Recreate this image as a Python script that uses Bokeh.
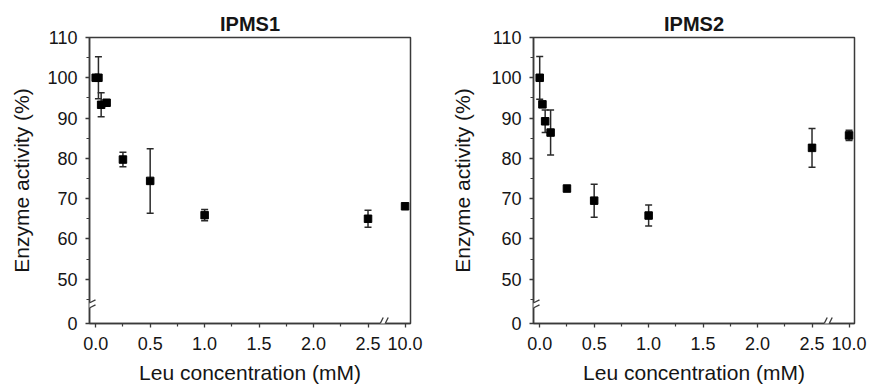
from bokeh.plotting import figure
from bokeh.layouts import row
from bokeh.models import (ColumnDataSource, Whisker, TeeHead, FixedTicker, Range1d,
                          NumeralTickFormatter, Arrow, PolyAnnotation)
from bokeh.embed import file_html
from bokeh.resources import INLINE

# ---------------- data ----------------
conc_mM = [0.0, 0.025, 0.05, 0.1, 0.25, 0.5, 1.0, 2.5, 10.0]

ipms1_activity = [100.0, 100.0, 93.3, 93.8, 79.7, 74.4, 65.9, 65.0, 68.1]
ipms1_error = [0.0, 5.2, 3.0, 0.0, 1.8, 8.0, 1.4, 2.1, 0.0]

ipms2_activity = [100.0, 93.4, 89.2, 86.4, 72.5, 69.5, 65.8, 82.6, 85.7]
ipms2_error = [5.3, 0.0, 2.8, 5.6, 0.0, 4.1, 2.6, 4.8, 1.3]

titles = ["IPMS1", "IPMS2"]
x_tick_values = [0.0, 0.5, 1.0, 1.5, 2.0, 2.5, 10.0]
x_tick_labels = ["0.0", "0.5", "1.0", "1.5", "2.0", "2.5", "10.0"]
x_minor_values = [0.25, 0.75, 1.25, 1.75, 2.25]
y_tick_values = [0, 50, 60, 70, 80, 90, 100, 110]
y_tick_labels = ["0", "50", "60", "70", "80", "90", "100", "110"]
y_minor_values = [45, 55, 65, 75, 85, 95, 105]

x_label = "Leu concentration (mM)"
y_label = "Enzyme activity (%)"

# ---------------- broken-axis mapping ----------------
X_LIN_MAX = 2.5      # linear part of x axis ends here
X_FAR_POS = 2.84     # axis position where the 10 mM point is drawn
X_BREAK_POS = 2.635  # where the "//" mark sits on x axis
Y_LIN_MIN = 45       # linear part of y axis starts here
Y_ZERO_POS = 39      # axis position where 0 % is drawn
Y_BREAK_POS = 43.5

X_LO, X_HI = -0.057, 2.89
Y_LO, Y_HI = Y_ZERO_POS, 110
FRAME_W, FRAME_H = 321, 286


def x_pos(c):
    return c if c <= X_LIN_MAX else X_FAR_POS


def y_pos(v):
    return v if v >= Y_LIN_MIN else Y_ZERO_POS


FONT = "Liberation Sans"
AX_COLOR = "#3a3a3a"
TXT_COLOR = "#151515"


def add_break(p, cx, cy, lines, gap_poly):
    px_x = FRAME_W / (X_HI - X_LO)
    px_y = FRAME_H / (Y_HI - Y_LO)
    p.add_layout(PolyAnnotation(
        xs=[cx + dx / px_x for dx, dy in gap_poly],
        ys=[cy + dy / px_y for dx, dy in gap_poly],
        fill_color="white", fill_alpha=1.0, line_color=None))
    for (x0, y0, x1, y1) in lines:
        p.add_layout(Arrow(end=None, x_start=cx + x0 / px_x, y_start=cy + y0 / px_y,
                           x_end=cx + x1 / px_x, y_end=cy + y1 / px_y,
                           line_color=AX_COLOR, line_width=1.3))


def make_panel(title, activity, error, border_left, border_right, ylabel_standoff):
    p = figure(frame_width=FRAME_W, frame_height=FRAME_H,
               x_range=Range1d(X_LO, X_HI), y_range=Range1d(Y_LO, Y_HI),
               output_backend="svg", toolbar_location=None,
               min_border_left=border_left, min_border_right=border_right,
               min_border_top=37, min_border_bottom=61,
               background_fill_color="white", border_fill_color="white")
    p.grid.visible = False
    p.outline_line_color = AX_COLOR
    p.outline_line_width = 1.5

    p.title.text = title
    p.title.align = "center"
    p.title.text_font = FONT
    p.title.text_font_size = "20px"
    p.title.text_font_style = "bold"
    p.title.text_color = TXT_COLOR
    p.title.standoff = 6

    xs = [x_pos(c) for c in conc_mM]
    ys = [y_pos(v) for v in activity]

    # error bars
    ex, eu, el = [], [], []
    for x, y, e in zip(xs, ys, error):
        if e > 0:
            ex.append(x)
            eu.append(y + e)
            el.append(y - e)
    esrc = ColumnDataSource(dict(x=ex, upper=eu, lower=el))
    w = Whisker(base="x", upper="upper", lower="lower", source=esrc,
                line_color="#2a2a2a", line_width=1.5,
                upper_head=TeeHead(size=7, line_color="#2a2a2a", line_width=1.5),
                lower_head=TeeHead(size=7, line_color="#2a2a2a", line_width=1.5))
    w.level = "underlay"
    p.add_layout(w)

    src = ColumnDataSource(dict(x=xs, y=ys))
    p.scatter("x", "y", source=src, marker="square", size=7.5,
              fill_color="black", line_color="black")

    # x axis
    xt = [x_pos(v) for v in x_tick_values]
    p.xaxis.ticker = FixedTicker(ticks=xt, minor_ticks=x_minor_values)
    p.xaxis.formatter = NumeralTickFormatter(format="0.0")
    p.xaxis.major_label_overrides = {t: l for t, l in zip(xt, x_tick_labels)}
    # y axis
    yt = [y_pos(v) for v in y_tick_values]
    p.yaxis.ticker = FixedTicker(ticks=yt, minor_ticks=y_minor_values)
    p.yaxis.major_label_overrides = {t: l for t, l in zip(yt, y_tick_labels)}

    for ax in (p.xaxis[0], p.yaxis[0]):
        ax.axis_line_color = AX_COLOR
        ax.axis_line_width = 1.5
        ax.major_tick_line_color = AX_COLOR
        ax.major_tick_line_width = 1.3
        ax.minor_tick_line_color = AX_COLOR
        ax.minor_tick_line_width = 1.2
        ax.major_tick_in = 0
        ax.major_tick_out = 4
        ax.minor_tick_in = 0
        ax.minor_tick_out = 3
        ax.major_label_text_font = FONT
        ax.major_label_text_font_size = "18px"
        ax.major_label_text_color = TXT_COLOR
        ax.axis_label_text_font = FONT
        ax.axis_label_text_font_size = "21px"
        ax.axis_label_text_font_style = "normal"
        ax.axis_label_text_color = TXT_COLOR

    p.xaxis.axis_label = x_label
    p.xaxis.major_label_standoff = 9
    p.xaxis.axis_label_standoff = 8
    p.yaxis.axis_label = y_label
    p.yaxis.major_label_standoff = 8
    p.yaxis.axis_label_standoff = ylabel_standoff

    # axis-break marks
    add_break(p, X_LO, Y_BREAK_POS,
              lines=[(-6, -5.5, 6, 0.5), (-6, -0.5, 6, 5.5)],
              gap_poly=[(-2.5, -3.75), (2.5, -1.25), (2.5, 3.75), (-2.5, 1.25)])
    add_break(p, X_BREAK_POS, Y_LO,
              lines=[(-5.5, -6, 0.5, 6), (-0.5, -6, 5.5, 6)],
              gap_poly=[(-3.75, -2.5), (-1.25, 2.5), (3.75, 2.5), (1.25, -2.5)])
    return p


p1 = make_panel(titles[0], ipms1_activity, ipms1_error, 89, 34, 11)
p2 = make_panel(titles[1], ipms2_activity, ipms2_error, 89, 18, 14)
layout = row(p1, p2)

open("out.html", "w").write(file_html(layout, INLINE))
